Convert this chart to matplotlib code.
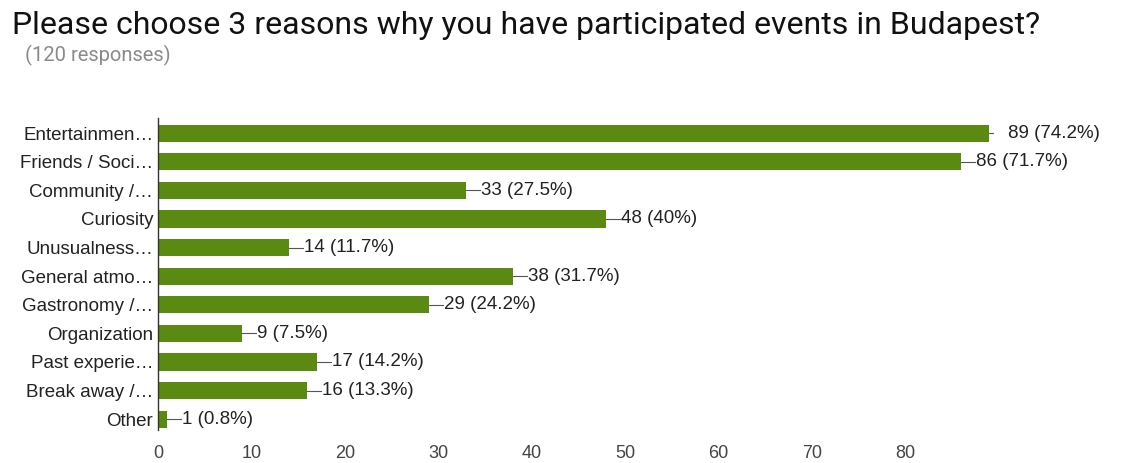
import matplotlib.pyplot as plt

categories = ['Entertainmen…', 'Friends / Soci…', 'Community /…', 'Curiosity',
              'Unusualness…', 'General atmo…', 'Gastronomy /…', 'Organization',
              'Past experie…', 'Break away /…', 'Other']
counts = [89, 86, 33, 48, 14, 38, 29, 9, 17, 16, 1]
percents = ['74.2%', '71.7%', '27.5%', '40%', '11.7%', '31.7%', '24.2%',
            '7.5%', '14.2%', '13.3%', '0.8%']
xticks = [0, 10, 20, 30, 40, 50, 60, 70, 80]

green = '#5b8a12'

fig = plt.figure(figsize=(11.24, 4.63), dpi=100)
ax = fig.add_axes([0.1406, 0.0713, 0.831, 0.6737])

y = list(range(len(categories)))
ax.barh(y, counts, height=0.6, color=green)
ax.set_ylim(10.38, -0.53)
ax.set_xlim(0, 100)

# value labels with a short leader line
for yi, c, p in zip(y, counts, percents):
    if c == 89:
        ax.plot([c, c + 0.4], [yi, yi], color='#555555', lw=0.8)
        tx = c + 2.0
    else:
        ax.plot([c, c + 1.5], [yi, yi], color='#555555', lw=0.8)
        tx = c + 1.6
    ax.text(tx, yi, f'{c} ({p})', va='center', ha='left',
            fontsize=13.5, color='#222222', family='Liberation Sans')

ax.set_yticks(y)
ax.set_yticklabels(categories, fontsize=13.5, color='#222222', family='Liberation Sans')
ax.set_xticks(xticks)
ax.set_xticklabels([str(t) for t in xticks], fontsize=13, color='#444444',
                   family='Liberation Sans')
ax.tick_params(axis='both', length=0)
ax.tick_params(axis='y', pad=3.5)
ax.tick_params(axis='x', pad=11)

for s in ['top', 'right', 'bottom']:
    ax.spines[s].set_visible(False)
ax.spines['left'].set_color('#333333')
ax.spines['left'].set_linewidth(1.0)

fig.text(0.011, 0.927, 'Please choose 3 reasons why you have participated events in Budapest?',
         fontsize=23, family='Roboto', color='#111111', va='baseline')
fig.text(0.022, 0.868, '(120 responses)', fontsize=14.5, family='Roboto',
         color='#8a8a8a', va='baseline')

fig.savefig('out.png', dpi=100)
